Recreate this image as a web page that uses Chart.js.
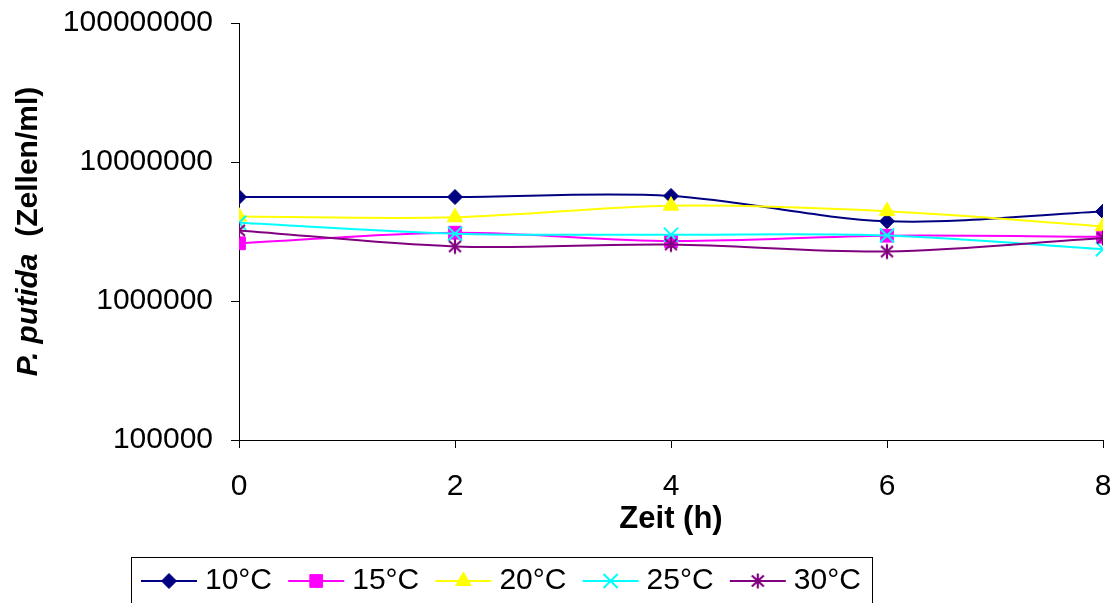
<!DOCTYPE html>
<html>
<head>
<meta charset="utf-8">
<title>P. putida – Zellzahl über die Zeit</title>
<script src="https://cdn.jsdelivr.net/npm/chart.js@4/dist/chart.umd.min.js"></script>
<style>
  html, body { margin: 0; padding: 0; background: #ffffff; }
  canvas { display: block; }
</style>
</head>
<body>
<canvas id="chart" width="1118" height="603"></canvas>
<script>
// Sampling times (h)
const zeit = [0, 2, 4, 6, 8];

// Cell counts per temperature (Zellen/ml)
const werte10 = [5600000, 5600000, 5700000, 3750000, 4400000];
const werte15 = [2600000, 3100000, 2700000, 2950000, 2900000];
const werte20 = [4050000, 4000000, 4850000, 4430000, 3450000];
const werte25 = [3650000, 3050000, 3000000, 2960000, 2360000];
const werte30 = [3220000, 2470000, 2550000, 2270000, 2840000];

const serienNamen = ['10°C', '15°C', '20°C', '25°C', '30°C'];
const yTicks = [100000, 1000000, 10000000, 100000000];
const xTicks = [0, 2, 4, 6, 8];

const FONT = "'Liberation Sans', Arial, sans-serif";

// Asterisk marker (vertical bar plus diagonal cross)
function asteriskMarker(color) {
  const c = document.createElement('canvas');
  c.width = 18; c.height = 18;
  const g = c.getContext('2d');
  g.strokeStyle = color;
  g.lineWidth = 2.2;
  g.beginPath();
  g.moveTo(9, 1.5); g.lineTo(9, 16.5);
  g.moveTo(3, 3.5); g.lineTo(15, 14.5);
  g.moveTo(15, 3.5); g.lineTo(3, 14.5);
  g.stroke();
  return c;
}

const stile = [
  { color: '#000080', point: 'rectRot', radius: 7.5, bw: 1 },
  { color: '#FF00FF', point: 'rect', radius: 9, bw: 1 },
  { color: '#FFFF00', point: 'triangle', radius: 9, bw: 1 },
  { color: '#00FFFF', point: 'crossRot', radius: 10, bw: 2 },
  { color: '#800080', point: asteriskMarker('#800080'), radius: 9, bw: 2 }
];

const reihen = [werte10, werte15, werte20, werte25, werte30];

const datasets = reihen.map((werte, i) => ({
  label: serienNamen[i],
  data: zeit.map((t, k) => ({ x: t, y: werte[k] })),
  borderColor: stile[i].color,
  backgroundColor: stile[i].color,
  borderWidth: 2,
  pointStyle: stile[i].point,
  pointRadius: stile[i].radius,
  pointHoverRadius: stile[i].radius,
  pointBorderWidth: stile[i].bw,
  pointBackgroundColor: stile[i].color,
  pointBorderColor: stile[i].color,
  tension: 0.33,
  fill: false,
  order: reihen.length - i
}));

// Rotated y-axis title with italic species name
const yTitelPlugin = {
  id: 'yTitel',
  afterDraw(chart) {
    const ctx = chart.ctx;
    const area = chart.chartArea;
    const teil1 = 'P. putida';
    const teil2 = '  (Zellen/ml)';
    const f1 = `italic bold 30px ${FONT}`;
    const f2 = `bold 30px ${FONT}`;
    ctx.save();
    ctx.font = f1; const w1 = ctx.measureText(teil1).width;
    ctx.font = f2; const w2 = ctx.measureText(teil2).width;
    ctx.translate(29, (area.top + area.bottom) / 2);
    ctx.rotate(-Math.PI / 2);
    ctx.fillStyle = '#000000';
    ctx.textBaseline = 'middle';
    ctx.textAlign = 'left';
    let x = -(w1 + w2) / 2;
    ctx.font = f1; ctx.fillText(teil1, x, 0);
    ctx.font = f2; ctx.fillText(teil2, x + w1, 0);
    ctx.restore();
  }
};

// Framed legend below the plot: line segment with marker, then label
const legendePlugin = {
  id: 'legendeUnten',
  afterDraw(chart) {
    const ctx = chart.ctx;
    const boxLeft = 131, boxTop = 557, boxWidth = 741, boxHeight = 70;
    const mitteY = 581;
    const start = 141, linie = 56, abstandText = 8, schritt = 147.2;
    ctx.save();
    ctx.strokeStyle = '#000000';
    ctx.lineWidth = 1;
    ctx.strokeRect(boxLeft + 0.5, boxTop + 0.5, boxWidth, boxHeight);
    chart.data.datasets.forEach((ds, i) => {
      const x0 = start + i * schritt;
      ctx.strokeStyle = ds.borderColor;
      ctx.lineWidth = 2;
      ctx.beginPath();
      ctx.moveTo(x0, mitteY);
      ctx.lineTo(x0 + linie, mitteY);
      ctx.stroke();
      ctx.fillStyle = ds.pointBackgroundColor;
      ctx.strokeStyle = ds.pointBorderColor;
      ctx.lineWidth = ds.pointBorderWidth;
      Chart.helpers.drawPoint(ctx, {
        pointStyle: ds.pointStyle,
        radius: ds.pointRadius,
        rotation: 0,
        borderWidth: ds.pointBorderWidth
      }, x0 + linie / 2, mitteY);
      ctx.fillStyle = '#000000';
      ctx.font = `30px ${FONT}`;
      ctx.textBaseline = 'middle';
      ctx.textAlign = 'left';
      ctx.fillText(ds.label, x0 + linie + abstandText, mitteY);
    });
    ctx.restore();
  }
};

new Chart(document.getElementById('chart'), {
  type: 'line',
  data: { datasets },
  plugins: [yTitelPlugin, legendePlugin],
  options: {
    responsive: false,
    animation: false,
    events: [],
    layout: { padding: { left: 0, right: 15, top: 23, bottom: 63 } },
    plugins: {
      legend: { display: false },
      tooltip: { enabled: false },
      title: { display: false }
    },
    scales: {
      x: {
        type: 'linear',
        min: 0,
        max: 8,
        afterBuildTicks(scale) { scale.ticks = xTicks.map(v => ({ value: v })); },
        afterFit(scale) {
          scale.height = 100;
          scale.paddingLeft = 0;
          scale.paddingRight = 0;
        },
        border: { display: true, color: '#000000', width: 1 },
        grid: { drawOnChartArea: false, drawTicks: true, tickLength: 8, color: '#000000' },
        ticks: {
          color: '#000000',
          font: { family: FONT, size: 30 },
          padding: 21,
          maxRotation: 0,
          callback: v => String(v)
        },
        title: {
          display: true,
          text: 'Zeit (h)',
          color: '#000000',
          font: { family: FONT, size: 31, weight: 'bold' },
          padding: { top: 0, bottom: 2 }
        }
      },
      y: {
        type: 'logarithmic',
        min: 100000,
        max: 100000000,
        afterBuildTicks(scale) { scale.ticks = yTicks.map(v => ({ value: v })); },
        afterFit(scale) {
          scale.width = 239;
          scale.paddingTop = 0;
          scale.paddingBottom = 0;
        },
        border: { display: true, color: '#000000', width: 1 },
        grid: { drawOnChartArea: false, drawTicks: true, tickLength: 8, color: '#000000' },
        ticks: {
          color: '#000000',
          font: { family: FONT, size: 30 },
          padding: 18,
          callback: v => String(v)
        }
      }
    }
  }
});
</script>
</body>
</html>
